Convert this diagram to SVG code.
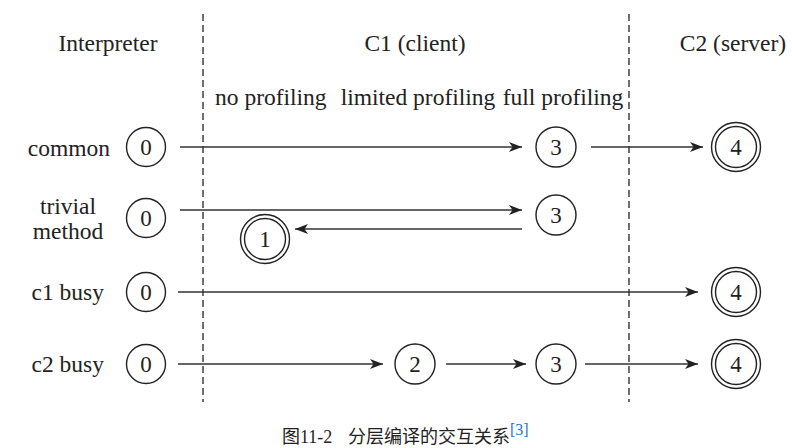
<svg xmlns="http://www.w3.org/2000/svg" width="792" height="448" viewBox="0 0 792 448">
<style>
  .t { font-family: "Liberation Serif", "Times New Roman", serif; font-size: 23.5px; fill: #222; }
  .d { font-family: "Liberation Serif", "Times New Roman", serif; font-size: 23px; fill: #222; text-anchor: middle; }
  .c { fill: #fff; stroke: #222; stroke-width: 1.4; }
  .ln { stroke: #333; stroke-width: 1.4; fill: none; marker-end: url(#ah); }
  .dash { stroke: #222; stroke-width: 1.3; stroke-dasharray: 7 4; fill: none; }
  .cap { font-family: "Liberation Serif", "Noto Sans CJK SC", serif; font-size: 18px; fill: #222; }
</style>
<defs>
  <marker id="ah" markerUnits="userSpaceOnUse" markerWidth="14" markerHeight="10" refX="13" refY="5" orient="auto">
    <path d="M0,0 L13,5 L0,10 L3.5,5 z" fill="#222"/>
  </marker>
</defs>
<rect width="792" height="448" fill="#fff"/>

<g id="dividers">
  <line class="dash" x1="203" y1="14" x2="203" y2="402"/>
  <line class="dash" x1="629" y1="14" x2="629" y2="402"/>
</g>

<g id="headers">
  <text class="t" x="108" y="51" text-anchor="middle">Interpreter</text>
  <text class="t" x="415" y="51" text-anchor="middle">C1 (client)</text>
  <text class="t" x="733" y="51" text-anchor="middle">C2 (server)</text>
  <text class="t" x="215" y="105">no profiling</text>
  <text class="t" x="418" y="105" text-anchor="middle">limited profiling</text>
  <text class="t" x="563" y="105" text-anchor="middle">full profiling</text>
</g>

<g id="row-labels">
  <text class="t" x="110" y="156" text-anchor="end">common</text>
  <text class="t" x="68" y="213.5" text-anchor="middle">trivial</text>
  <text class="t" x="68" y="239" text-anchor="middle">method</text>
  <text class="t" x="104" y="300" text-anchor="end">c1 busy</text>
  <text class="t" x="104" y="372" text-anchor="end">c2 busy</text>
</g>

<g id="connectors">
  <line class="ln" x1="180" y1="147" x2="522" y2="147"/>
  <line class="ln" x1="591" y1="147" x2="703" y2="147"/>
  <line class="ln" x1="180" y1="210" x2="522" y2="210"/>
  <line class="ln" x1="522" y1="229" x2="295" y2="229"/>
  <line class="ln" x1="178" y1="292" x2="698" y2="292"/>
  <line class="ln" x1="178" y1="364" x2="383" y2="364"/>
  <line class="ln" x1="446" y1="364" x2="526" y2="364"/>
  <line class="ln" x1="585" y1="364" x2="698" y2="364"/>
</g>

<g id="common-0"><circle class="c" cx="146" cy="147" r="19.5"/><text class="d" x="146" y="155">0</text></g>
<g id="common-3"><circle class="c" cx="556" cy="147" r="20"/><text class="d" x="556" y="155">3</text></g>
<g id="common-4"><circle class="c" cx="736" cy="147" r="24.5"/><circle class="c" cx="736" cy="147" r="20.5"/><text class="d" x="736" y="155">4</text></g>

<g id="trivial-0"><circle class="c" cx="146" cy="218" r="19.5"/><text class="d" x="146" y="226">0</text></g>
<g id="trivial-3"><circle class="c" cx="556" cy="215" r="20"/><text class="d" x="556" y="223">3</text></g>
<g id="trivial-1"><circle class="c" cx="265" cy="239" r="24.5"/><circle class="c" cx="265" cy="239" r="20.5"/><text class="d" x="265" y="247">1</text></g>

<g id="c1busy-0"><circle class="c" cx="146" cy="292" r="19.5"/><text class="d" x="146" y="300">0</text></g>
<g id="c1busy-4"><circle class="c" cx="736" cy="292" r="24.5"/><circle class="c" cx="736" cy="292" r="20.5"/><text class="d" x="736" y="300">4</text></g>

<g id="c2busy-0"><circle class="c" cx="146" cy="364" r="19.5"/><text class="d" x="146" y="372">0</text></g>
<g id="c2busy-2"><circle class="c" cx="415" cy="364" r="20"/><text class="d" x="415" y="372">2</text></g>
<g id="c2busy-3"><circle class="c" cx="556" cy="364" r="20"/><text class="d" x="556" y="372">3</text></g>
<g id="c2busy-4"><circle class="c" cx="736" cy="364" r="24.5"/><circle class="c" cx="736" cy="364" r="20.5"/><text class="d" x="736" y="372">4</text></g>

<g id="caption">
  <text class="cap" x="282" y="443">图11-2<tspan x="348">分层编译的交互关系</tspan><tspan fill="#2a6fd0" font-size="16" dy="-8">[3]</tspan></text>
</g>
</svg>
